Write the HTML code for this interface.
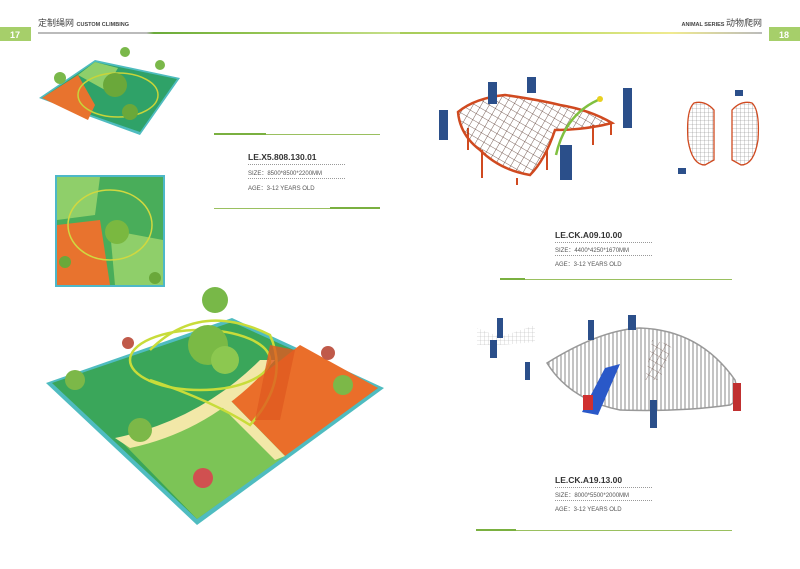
<!DOCTYPE html><html><head><meta charset="utf-8"><style>
body{margin:0;width:800px;height:569px;background:#fff;overflow:hidden;position:relative;font-family:"Liberation Sans","Noto Sans CJK SC",sans-serif}
.t{position:absolute;color:#555;font-size:6px}
.code{position:absolute;font-size:8.5px;font-weight:bold;color:#333}
.dl{position:absolute;border-top:1px dotted #999;width:97px}
</style></head><body>
<svg width="800" height="569" style="position:absolute;left:0;top:0">
<defs>
<linearGradient id="gl" x1="0" x2="1"><stop offset="0" stop-color="#bbb"/><stop offset=".3" stop-color="#bbb"/><stop offset=".32" stop-color="#6aaa3a"/><stop offset=".55" stop-color="#8bbf4a"/><stop offset="1" stop-color="#c8e08a"/></linearGradient>
<linearGradient id="gr" x1="0" x2="1"><stop offset="0" stop-color="#a7cc5a"/><stop offset=".45" stop-color="#c0dc6a"/><stop offset=".75" stop-color="#f0ea90"/><stop offset="1" stop-color="#bbb"/></linearGradient>
<pattern id="net" width="7" height="7" patternUnits="userSpaceOnUse" patternTransform="rotate(30)"><path d="M0,0H7M0,0V7" stroke="#5a3a30" stroke-width="0.8" fill="none"/></pattern>
<pattern id="gnet" width="4" height="4" patternUnits="userSpaceOnUse"><path d="M0,0H4M0,0V4" stroke="#888" stroke-width="0.6" fill="none"/></pattern>
<pattern id="bars" width="4" height="10" patternUnits="userSpaceOnUse"><path d="M1,0V10" stroke="#8a8a8a" stroke-width="1" fill="none"/></pattern>
</defs>
<rect x="0" y="27" width="31" height="14" fill="#a6cf6a"/>
<text x="10" y="38" font-size="9" fill="#fff" font-weight="bold">17</text>
<rect x="769" y="27" width="31" height="14" fill="#a6cf6a"/>
<text x="779" y="38" font-size="9" fill="#fff" font-weight="bold">18</text>
<rect x="38" y="32" width="362" height="2" fill="url(#gl)"/>
<rect x="400" y="32" width="362" height="2" fill="url(#gr)"/>
<text x="38" y="26" font-size="9" fill="#444">定制绳网 <tspan font-size="5.5" font-weight="bold">CUSTOM CLIMBING</tspan></text>
<text x="762" y="26" font-size="9" fill="#444" text-anchor="end"><tspan font-size="5.5" font-weight="bold">ANIMAL SERIES </tspan>动物爬网</text>
<!-- small top-left -->
<polygon points="39,98 95,60 180,78 140,135" fill="#4fbcc0"/>
<polygon points="42,98 95,62 177,79 140,132" fill="#2fa268"/>
<polygon points="42,98 78,75 95,105 88,120" fill="#e8732e"/>
<polygon points="78,75 95,62 118,68 105,90" fill="#8fcf6a"/>
<ellipse cx="118" cy="95" rx="40" ry="22" fill="none" stroke="#c8d43a" stroke-width="1.5"/>
<circle cx="115" cy="85" r="12" fill="#6aa83a"/><circle cx="60" cy="78" r="6" fill="#7ab84a"/><circle cx="130" cy="112" r="8" fill="#6aa83a"/><circle cx="160" cy="65" r="5" fill="#7ab84a"/><circle cx="125" cy="52" r="5" fill="#7ab84a"/>
<!-- thumbnail -->
<rect x="55" y="175" width="110" height="112" fill="#4db8c8"/>
<rect x="57" y="177" width="106" height="108" fill="#49ad5a"/>
<path d="M57,225 L100,220 L110,285 L57,285Z" fill="#e8732e"/>
<path d="M110,230 L163,240 L163,285 L115,285Z" fill="#8fcf6a"/>
<path d="M57,177 L100,177 L95,215 L57,220Z" fill="#8fcf6a"/>
<ellipse cx="110" cy="225" rx="42" ry="35" fill="none" stroke="#d0d840" stroke-width="1.5"/>
<circle cx="117" cy="232" r="12" fill="#7ab840"/><circle cx="65" cy="262" r="6" fill="#6aa83a"/><circle cx="155" cy="278" r="6" fill="#6aa83a"/>
<!-- big -->
<polygon points="46,383 232,318 384,388 197,525" fill="#4fbcc0"/>
<polygon points="52,383 232,322 378,388 197,519" fill="#3aa65a"/>
<polygon points="230,400 300,345 378,388 285,456" fill="#ea6e2a"/>
<polygon points="120,440 230,400 285,456 197,519" fill="#7cc456"/>
<path d="M115,438 Q200,420 260,360 L275,360 Q215,430 130,448Z" fill="#f2e8a8"/>
<path d="M230,400 L285,456 L275,460 L220,405Z" fill="#f2e8a8"/>
<ellipse cx="200" cy="360" rx="70" ry="30" fill="none" stroke="#c8dc3a" stroke-width="2.5"/>
<path d="M150,350 Q200,300 270,335 Q290,380 250,425 Q210,400 150,380" fill="none" stroke="#c8dc3a" stroke-width="2.5"/>
<path d="M270,345 L295,350 L280,420 L255,420Z" fill="#e05a20" opacity=".8"/>
<circle cx="215" cy="300" r="13" fill="#78b848"/><circle cx="208" cy="345" r="20" fill="#7aba45"/><circle cx="225" cy="360" r="14" fill="#8cc850"/>
<circle cx="75" cy="380" r="10" fill="#7cb848"/><circle cx="140" cy="430" r="12" fill="#7cb848"/><circle cx="343" cy="385" r="10" fill="#7cb848"/>
<circle cx="203" cy="478" r="10" fill="#d05050"/><circle cx="128" cy="343" r="6" fill="#c05a4a"/><circle cx="328" cy="353" r="7" fill="#c05a4a"/>
<!-- butterfly -->
<g stroke="#d04a20" stroke-width="2"><line x1="468" y1="128" x2="468" y2="150"/><line x1="482" y1="150" x2="482" y2="178"/><line x1="517" y1="178" x2="517" y2="185"/><line x1="547" y1="150" x2="547" y2="170"/><line x1="593" y1="125" x2="593" y2="145"/><line x1="611" y1="122" x2="611" y2="135"/></g>
<path d="M458,112 Q475,98 505,95 Q540,100 560,105 Q590,110 612,123 Q585,130 555,130 Q545,160 530,175 Q500,170 480,150 Q460,135 458,112Z" fill="url(#net)" stroke="#d04a20" stroke-width="2.5"/>
<path d="M556,155 Q565,115 598,100" fill="none" stroke="#80c040" stroke-width="2.5"/><circle cx="600" cy="99" r="3" fill="#e8d020"/>
<path d="M694,103 Q686,110 688,140 Q692,165 705,165 L714,160 L714,110 Q705,100 694,103Z" fill="url(#gnet)" stroke="#d04a20" stroke-width="1.3"/>
<path d="M752,103 Q760,110 758,140 Q754,165 741,165 L732,160 L732,110 Q741,100 752,103Z" fill="url(#gnet)" stroke="#d04a20" stroke-width="1.3"/>
<g fill="#2b4f8a"><rect x="439" y="110" width="9" height="30"/><rect x="488" y="82" width="9" height="22"/><rect x="527" y="77" width="9" height="16"/><rect x="623" y="88" width="9" height="40"/><rect x="560" y="145" width="12" height="35"/><rect x="735" y="90" width="8" height="6"/><rect x="678" y="168" width="8" height="6"/></g>
<!-- dome -->
<path d="M547,363 Q600,330 640,328 Q700,330 735,380 Q740,400 730,405 Q680,412 620,410 Q570,400 547,363Z" fill="url(#bars)" stroke="#999" stroke-width="1.5"/>
<path d="M652,340 L672,345 L660,380 L645,380Z" fill="url(#net)" opacity=".7"/>
<path d="M477,328 L500,337 L535,325 L535,342 L500,345 L477,345Z" fill="url(#gnet)" opacity=".6"/>
<path d="M605,368 L620,364 L598,415 L582,412Z" fill="#2a58c8"/>
<g fill="#2b4f8a"><rect x="497" y="318" width="6" height="20"/><rect x="490" y="340" width="7" height="18"/><rect x="525" y="362" width="5" height="18"/><rect x="588" y="320" width="6" height="20"/><rect x="628" y="315" width="8" height="15"/><rect x="650" y="400" width="7" height="28"/></g>
<rect x="733" y="383" width="8" height="28" fill="#c03030"/><rect x="583" y="395" width="10" height="15" fill="#d03030"/>
<!-- text lines -->
<rect x="214" y="133" width="52" height="2" fill="#7ab040"/><rect x="266" y="134" width="114" height="1" fill="#9ac060"/>
<rect x="214" y="208" width="116" height="1" fill="#9ac060"/><rect x="330" y="207" width="50" height="2" fill="#7ab040"/>
<rect x="500" y="279" width="232" height="1" fill="#9ac060"/><rect x="500" y="278" width="25" height="2" fill="#7ab040"/>
<rect x="476" y="530" width="256" height="1" fill="#9ac060"/><rect x="476" y="529" width="40" height="2" fill="#7ab040"/>
</svg>
<div class="code" style="left:248px;top:152px">LE.X5.808.130.01</div>
<div class="dl" style="left:248px;top:164px"></div>
<div class="t" style="left:248px;top:168px">SIZE：8500*8500*2200MM</div>
<div class="dl" style="left:248px;top:178px"></div>
<div class="t" style="left:248px;top:183px">AGE：3-12 YEARS OLD</div>
<div class="code" style="left:555px;top:230px">LE.CK.A09.10.00</div>
<div class="dl" style="left:555px;top:242px"></div>
<div class="t" style="left:555px;top:245px">SIZE：4400*4250*1670MM</div>
<div class="dl" style="left:555px;top:255px"></div>
<div class="t" style="left:555px;top:259px">AGE：3-12 YEARS OLD</div>
<div class="code" style="left:555px;top:475px">LE.CK.A19.13.00</div>
<div class="dl" style="left:555px;top:487px"></div>
<div class="t" style="left:555px;top:490px">SIZE：8000*5500*2000MM</div>
<div class="dl" style="left:555px;top:500px"></div>
<div class="t" style="left:555px;top:504px">AGE：3-12 YEARS OLD</div>
</body></html>
